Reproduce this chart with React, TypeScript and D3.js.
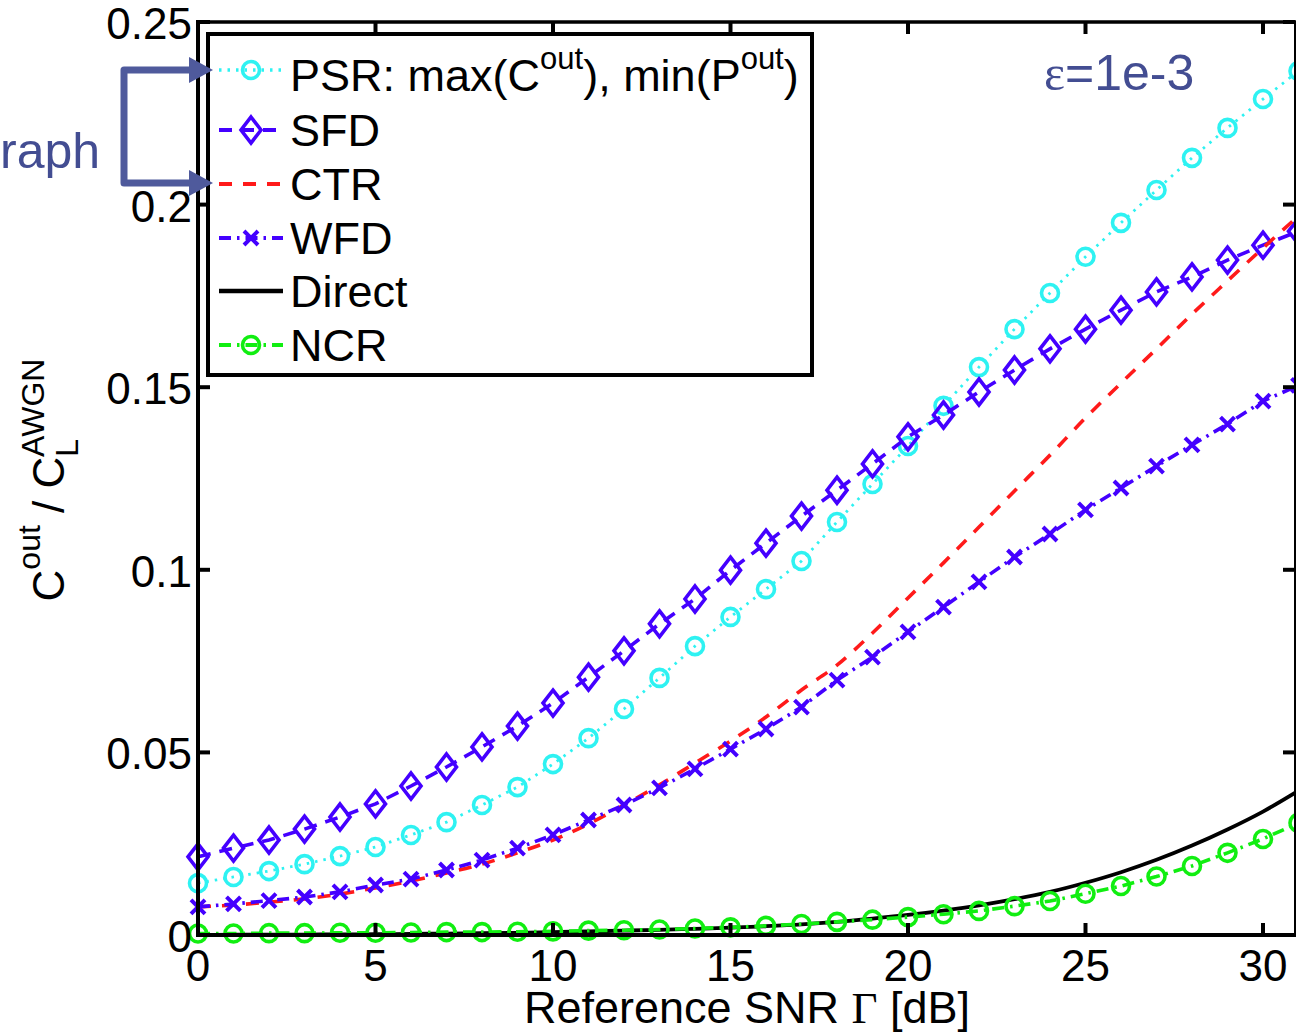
import React from "react";
import * as d3 from "d3";

// ---------- data ----------
const snrDb = [0, 1, 2, 3, 4, 5, 6, 7, 8, 9, 10, 11, 12, 13, 14, 15, 16, 17, 18, 19, 20, 21, 22, 23, 24, 25, 26, 27, 28, 29, 30, 31];

const psr = [0.0142, 0.0159, 0.0175, 0.0194, 0.0216, 0.0241, 0.0274, 0.0309, 0.0356, 0.0405, 0.0468, 0.0539, 0.0619, 0.0704, 0.0791, 0.0871, 0.0947, 0.1024, 0.1131, 0.1235, 0.1339, 0.1449, 0.1555, 0.1659, 0.1758, 0.1857, 0.195, 0.204, 0.2128, 0.221, 0.2289, 0.2366];
const sfd = [0.0214, 0.0238, 0.026, 0.029, 0.0323, 0.0359, 0.0408, 0.046, 0.0515, 0.0572, 0.0635, 0.0706, 0.0778, 0.0852, 0.092, 0.0999, 0.1073, 0.1147, 0.1218, 0.129, 0.1364, 0.1424, 0.1487, 0.1547, 0.1605, 0.1659, 0.1711, 0.1761, 0.1802, 0.1848, 0.1889, 0.1927];
const ctr = [0.0077, 0.0082, 0.009, 0.0099, 0.0112, 0.0129, 0.0148, 0.017, 0.0194, 0.0225, 0.026, 0.0304, 0.0356, 0.0411, 0.0471, 0.0531, 0.0597, 0.0671, 0.0739, 0.0827, 0.0923, 0.1019, 0.1117, 0.1216, 0.1314, 0.1416, 0.1511, 0.1605, 0.17, 0.1791, 0.1881, 0.1969];
const wfd = [0.0077, 0.0085, 0.0094, 0.0104, 0.0118, 0.0137, 0.0153, 0.0178, 0.0205, 0.0238, 0.0274, 0.0315, 0.0356, 0.0403, 0.0455, 0.0509, 0.0564, 0.0624, 0.0698, 0.0761, 0.083, 0.0898, 0.0967, 0.1035, 0.1098, 0.1164, 0.1224, 0.1284, 0.1342, 0.1399, 0.1462, 0.1505];
const direct = [0.00005, 0.00007, 0.0001, 0.00013, 0.00017, 0.00022, 0.0003, 0.0004, 0.0005, 0.0006, 0.0008, 0.001, 0.0012, 0.0014, 0.0017, 0.002, 0.0024, 0.0029, 0.0036, 0.0045, 0.0055, 0.0067, 0.0081, 0.0098, 0.0118, 0.0143, 0.0172, 0.0206, 0.0245, 0.0289, 0.0338, 0.0395];
const ncr = [0.0004, 0.0004, 0.0005, 0.0005, 0.0006, 0.0006, 0.0007, 0.0008, 0.0008, 0.0009, 0.001, 0.0012, 0.0013, 0.0015, 0.0018, 0.0021, 0.0025, 0.003, 0.0036, 0.0042, 0.0049, 0.0057, 0.0066, 0.0079, 0.0093, 0.0113, 0.0134, 0.016, 0.0189, 0.0225, 0.0263, 0.0307];

const xTicks = [0, 5, 10, 15, 20, 25, 30];
const yTicks = [0, 0.05, 0.1, 0.15, 0.2, 0.25];
const yTickLabels = ["0", "0.05", "0.1", "0.15", "0.2", "0.25"];

const legendNames = ["PSR", "SFD", "CTR", "WFD", "Direct", "NCR"];

type Series = {
  name: string;
  values: number[];
  color: string;
  dash: string;
  width: number;
  marker: "circle" | "diamond" | "x" | "none";
  smooth: boolean;
};

const SANS = "'Liberation Sans', Arial, Helvetica, sans-serif";
const SERIF = "'Liberation Serif', 'Times New Roman', serif";
const ANNOT = "#434d92";

export default function App() {
  const W = 1296;
  const H = 1034;
  const x = d3.scaleLinear().domain([0, 31]).range([198, 1298.5]);
  const y = d3.scaleLinear().domain([0, 0.25]).range([935, 22]);

  const series: Series[] = [
    { name: "PSR", values: psr, color: "#2ef2f2", dash: "2.5,6", width: 2.8, marker: "circle", smooth: false },
    { name: "SFD", values: sfd, color: "#4400ff", dash: "13,9", width: 3.6, marker: "diamond", smooth: false },
    { name: "CTR", values: ctr, color: "#ff1a1a", dash: "13,11", width: 3.6, marker: "none", smooth: true },
    { name: "WFD", values: wfd, color: "#4400ff", dash: "12,6,2.5,6", width: 3.6, marker: "x", smooth: false },
    { name: "Direct", values: direct, color: "#000000", dash: "", width: 3.8, marker: "none", smooth: true },
    { name: "NCR", values: ncr, color: "#11ee11", dash: "12,6,2.5,6", width: 3.6, marker: "circle", smooth: false },
  ];

  const markerPath = (m: string) => {
    if (m === "diamond") return "M0,-13L10,0L0,13L-10,0Z";
    if (m === "x") return "M-7,-7L7,7M-7,7L7,-7";
    return "";
  };

  const renderMarker = (s: Series, cx: number, cy: number, key: string | number) => {
    if (s.marker === "circle")
      return <circle key={key} cx={cx} cy={cy} r={8.5} fill="none" stroke={s.color} strokeWidth={3.6} />;
    if (s.marker === "none") return null;
    return (
      <path key={key} d={markerPath(s.marker)} transform={`translate(${cx},${cy})`} fill="none" stroke={s.color}
        strokeWidth={s.marker === "x" ? 4 : 3.6} strokeLinejoin="miter" />
    );
  };

  const lineGen = (smooth: boolean) =>
    d3
      .line<number>()
      .x((_, i) => x(snrDb[i]))
      .y((d) => y(d))
      .curve(smooth ? d3.curveMonotoneX : d3.curveLinear);

  const legendRowsY = [70, 130, 184, 238, 291, 345];
  const legendX0 = 219;
  const legendX1 = 283;
  const legendTextX = 290;

  return (
    <svg width={W} height={H} style={{ position: "absolute", left: 0, top: 0, background: "#fff" }}
      fontFamily={SANS}>
      <rect x={0} y={0} width={W} height={H} fill="#fff" />

      {/* series */}
      {series.map((s) => (
        <g key={s.name}>
          <path d={lineGen(s.smooth)(s.values) || ""} fill="none" stroke={s.color} strokeWidth={s.width}
            strokeDasharray={s.dash || undefined} />
          {s.values.map((v, i) => renderMarker(s, x(snrDb[i]), y(v), i))}
        </g>
      ))}

      {/* axes frame */}
      <line x1={198} x2={198} y1={20} y2={937} stroke="#000" strokeWidth={4} />
      <line x1={196} x2={1296} y1={935} y2={935} stroke="#000" strokeWidth={4} />
      <line x1={196} x2={1296} y1={22} y2={22} stroke="#000" strokeWidth={3.5} />
      <line x1={1295} x2={1295} y1={22} y2={935} stroke="#000" strokeWidth={2} />

      {/* ticks */}
      {xTicks.map((t) => (
        <g key={`xt${t}`}>
          <line x1={x(t)} x2={x(t)} y1={935} y2={923} stroke="#000" strokeWidth={4} />
          <line x1={x(t)} x2={x(t)} y1={22} y2={34} stroke="#000" strokeWidth={4} />
          <text x={x(t)} y={981} textAnchor="middle" fontSize={44} fill="#000">{t}</text>
        </g>
      ))}
      {yTicks.map((t, i) => (
        <g key={`yt${t}`}>
          <line x1={198} x2={210} y1={y(t)} y2={y(t)} stroke="#000" strokeWidth={4} />
          <line x1={1295} x2={1283} y1={y(t)} y2={y(t)} stroke="#000" strokeWidth={4} />
          <text x={192} y={y(t) + 17} textAnchor="end" fontSize={44} fill="#000">{yTickLabels[i]}</text>
        </g>
      ))}

      {/* axis labels */}
      <text x={747} y={1023} textAnchor="middle" fontSize={45} fill="#000">
        Reference SNR <tspan fontFamily={SERIF}>Γ</tspan> [dB]
      </text>
      <text transform="translate(64,480) rotate(-90)" textAnchor="middle" fontSize={44} fill="#000">
        C<tspan fontSize={32} dy={-24}>out</tspan>
        <tspan dy={24}> / C</tspan>
        <tspan fontSize={32} dy={14}>L</tspan>
        <tspan fontSize={32} dx={-18} dy={-34}>AWGN</tspan>
      </text>

      {/* legend */}
      <rect x={208} y={34} width={604} height={341} fill="#fff" stroke="#000" strokeWidth={4} />
      {series.map((s, i) => {
        const ly = legendRowsY[i];
        return (
          <g key={`lg${s.name}`}>
            <line x1={legendX0} x2={legendX1} y1={ly} y2={ly} stroke={s.color} strokeWidth={s.width + 0.6}
              strokeDasharray={s.dash || undefined} />
            {renderMarker(s, (legendX0 + legendX1) / 2, ly, "m")}
          </g>
        );
      })}
      <text x={legendTextX} y={91} fontSize={45} fill="#000">
        PSR: max(C<tspan fontSize={31} dy={-22}>out</tspan>
        <tspan dy={22}>), min(P</tspan>
        <tspan fontSize={31} dy={-22}>out</tspan>
        <tspan dy={22}>)</tspan>
      </text>
      {legendNames.slice(1).map((n, i) => (
        <text key={`lt${n}`} x={legendTextX} y={legendRowsY[i + 1] + 16} fontSize={45} fill="#000">{n}</text>
      ))}

      {/* annotations */}
      <text x={1044} y={90} fontSize={50} fill={ANNOT}>
        <tspan fontFamily={SERIF}>ε</tspan>=1e-3
      </text>
      <text x={0} y={168} fontSize={50} fill={ANNOT}>raph</text>
      <path d="M192,70 L124,70 L124,183 L192,183" fill="none" stroke="#4f5a9c" strokeWidth={7} strokeLinejoin="round" />
      <path d="M189,57 L213,70 L189,83 Z" fill="#4f5a9c" />
      <path d="M189,170 L213,183 L189,196 Z" fill="#4f5a9c" />
    </svg>
  );
}
